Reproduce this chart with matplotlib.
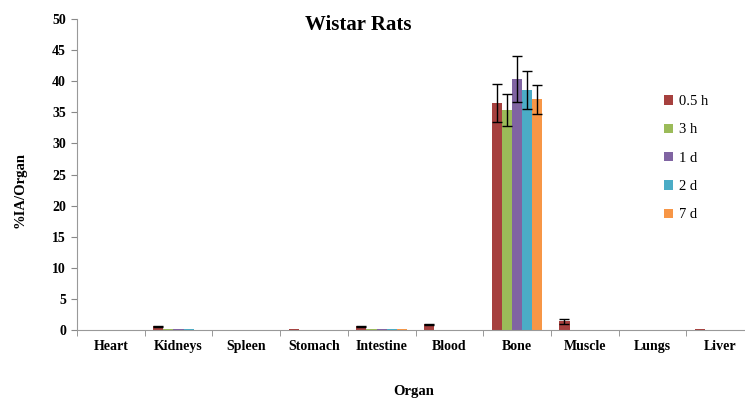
import numpy as np
import matplotlib
matplotlib.use("Agg")
import matplotlib.pyplot as plt

plt.rcParams['font.family'] = ['Liberation Serif', 'DejaVu Serif']
plt.rcParams['font.weight'] = 'bold'

organs = ['Heart', 'Kidneys', 'Spleen', 'Stomach', 'Intestine',
          'Blood', 'Bone', 'Muscle', 'Lungs', 'Liver']
labels = ['0.5 h', '3 h', '1 d', '2 d', '7 d']
colors = ['#A6403E', '#9BBB59', '#8064A2', '#4BACC6', '#F79646']

# %IA/organ per time point
h05 = [0.0, 0.6, 0.0, 0.2, 0.6, 0.9, 36.5, 1.4, 0.0, 0.2]
h3 = [0.0, 0.2, 0.0, 0.0, 0.2, 0.0, 35.4, 0.0, 0.0, 0.0]
d1 = [0.0, 0.2, 0.0, 0.0, 0.2, 0.0, 40.3, 0.0, 0.0, 0.0]
d2 = [0.0, 0.1, 0.0, 0.0, 0.2, 0.0, 38.6, 0.0, 0.0, 0.0]
d7 = [0.0, 0.0, 0.0, 0.0, 0.2, 0.0, 37.1, 0.0, 0.0, 0.0]

# standard deviations
e05 = [0, 0.1, 0, 0, 0.1, 0.1, 3.1, 0.4, 0, 0]
e3 = [0, 0, 0, 0, 0, 0, 2.6, 0, 0, 0]
e1 = [0, 0, 0, 0, 0, 0, 3.7, 0, 0, 0]
e2 = [0, 0, 0, 0, 0, 0, 3.1, 0, 0, 0]
e7 = [0, 0, 0, 0, 0, 0, 2.3, 0, 0, 0]

series = [h05, h3, d1, d2, d7]
errors = [e05, e3, e1, e2, e7]

fig = plt.figure(figsize=(7.45, 3.99), dpi=100)
ax = fig.add_axes([77 / 745, 1 - 330 / 399, 677 / 745, 311 / 399])

x = np.arange(len(organs)) + 0.5
w = 0.15
for i, (vals, err) in enumerate(zip(series, errors)):
    pos = x + (i - 2) * w
    vals = np.array(vals)
    err = np.array(err)
    ax.bar(pos, vals, w, color=colors[i], label=labels[i])
    m = err > 0
    ax.errorbar(pos[m], vals[m], yerr=err[m], fmt='none', ecolor='black',
                elinewidth=1, capsize=3.5, capthick=1)

ax.set_xlim(0, len(organs))
ax.set_ylim(0, 50)
ax.set_yticks(range(0, 51, 5))
ax.set_xticks(x)
ax.set_xticklabels(organs)
ax.set_xticks(range(len(organs) + 1), minor=True)
ax.tick_params(axis='x', which='major', length=0, pad=7, labelsize=10)
ax.tick_params(axis='x', which='minor', length=4, color='#888888')
ax.tick_params(axis='y', length=4, color='#888888', labelsize=10, pad=4)
for s in ['top', 'right']:
    ax.spines[s].set_visible(False)
for s in ['left', 'bottom']:
    ax.spines[s].set_color('#999999')

fig.text(358 / 745, 1 - 25 / 399, 'Wistar Rats', ha='center', va='center',
         fontsize=15, fontweight='bold')
fig.text(20 / 745, 1 - 190 / 399, '%IA/Organ', rotation=90, ha='center',
         va='center', fontsize=10.5, fontweight='bold')
fig.text(414 / 745, 1 - 391 / 399, 'Organ', ha='center', va='center',
         fontsize=10.5, fontweight='bold')

leg = ax.legend(loc='upper left', bbox_to_anchor=(651 / 745, 1 - 82 / 399),
                bbox_transform=fig.transFigure, frameon=False,
                prop={'size': 10.5, 'weight': 'normal'},
                handlelength=0.6, handleheight=0.6, handletextpad=0.4,
                labelspacing=1.05)

fig.savefig('out.png', dpi=100, facecolor='white')
